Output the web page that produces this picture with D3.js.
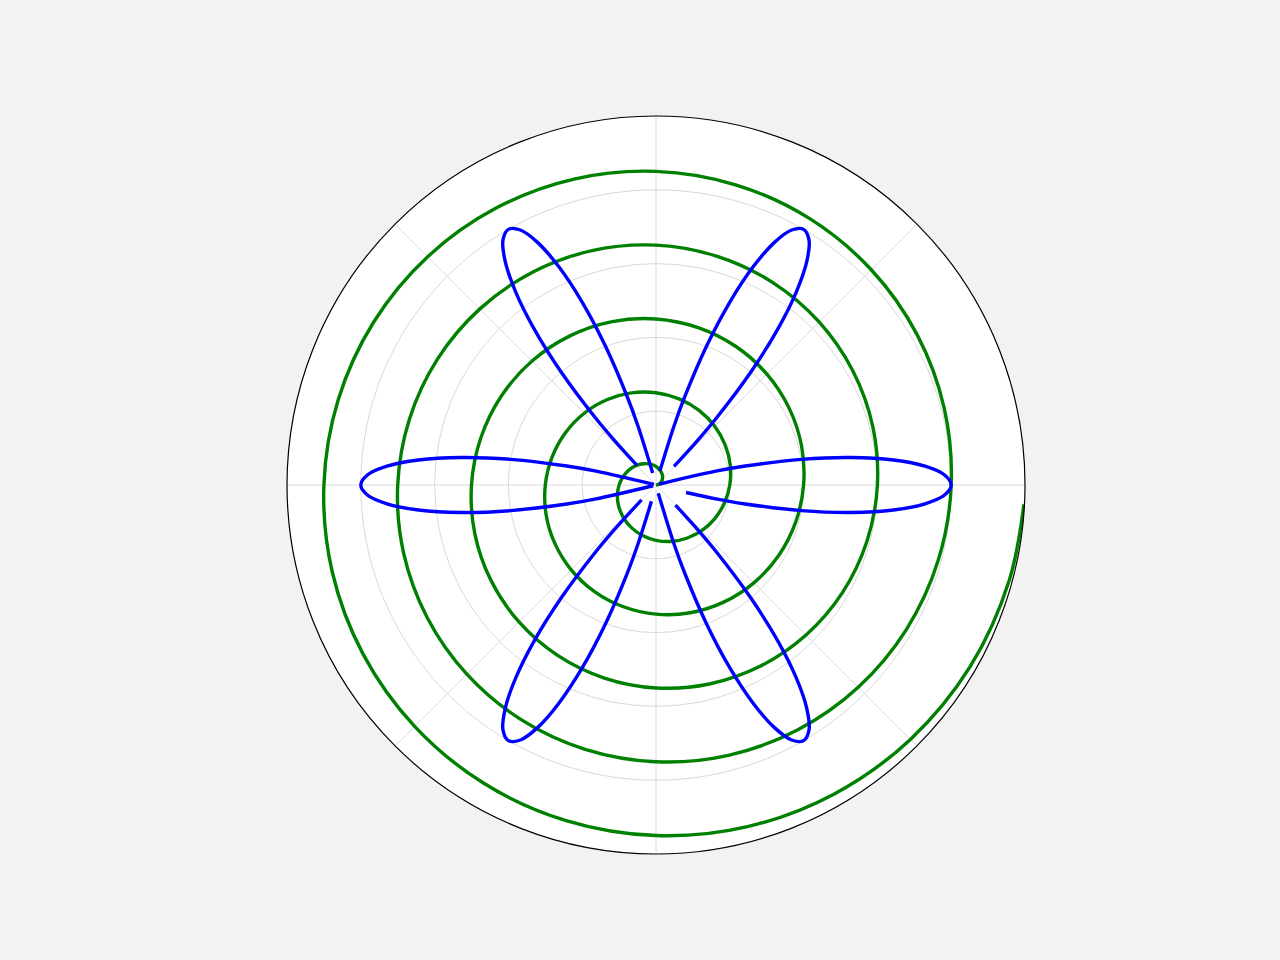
<!DOCTYPE html>
<html>
<head>
<meta charset="utf-8">
<script src="https://cdn.jsdelivr.net/npm/d3@7"></script>
<style>
  html, body { margin: 0; padding: 0; background: #f2f2f2; }
  svg { display: block; }
</style>
</head>
<body>
<svg id="chart" width="1280" height="960"></svg>
<script>
// ---- data ----
// Radial grid rings and angular grid directions (degrees)
const radialTicks = [1, 2, 3, 4];
const angularTicks = [0, 45, 90, 135, 180, 225, 270, 315];
const radialMax = 5;

// Green spiral: angle (degrees, counter-clockwise from east) and radius
const spiralTheta = [
  0,15,30,45,60,75,90,105,120,135,150,165,180,195,210,225,240,255,270,285,300,315,330,345,
  360,375,390,405,420,435,450,465,480,495,510,525,540,555,570,585,600,615,630,645,660,675,690,705,
  720,735,750,765,780,795,810,825,840,855,870,885,900,915,930,945,960,975,990,1005,1020,1035,1050,1065,
  1080,1095,1110,1125,1140,1155,1170,1185,1200,1215,1230,1245,1260,1275,1290,1305,1320,1335,1350,1365,1380,1395,1410,1425,
  1440,1455,1470,1485,1500,1515,1530,1545,1560,1575,1590,1605,1620,1635,1650,1665,1680,1695,1710,1725,1740,1755,1770,1785,
  1797];
const spiralR = [
  0,0.042,0.083,0.125,0.167,0.208,0.25,0.292,0.333,0.375,0.417,0.458,0.5,0.542,0.583,0.625,0.667,0.708,0.75,0.792,0.833,0.875,0.917,0.958,
  1,1.042,1.083,1.125,1.167,1.208,1.25,1.292,1.333,1.375,1.417,1.458,1.5,1.542,1.583,1.625,1.667,1.708,1.75,1.792,1.833,1.875,1.917,1.958,
  2,2.042,2.083,2.125,2.167,2.208,2.25,2.292,2.333,2.375,2.417,2.458,2.5,2.542,2.583,2.625,2.667,2.708,2.75,2.792,2.833,2.875,2.917,2.958,
  3,3.042,3.083,3.125,3.167,3.208,3.25,3.292,3.333,3.375,3.417,3.458,3.5,3.542,3.583,3.625,3.667,3.708,3.75,3.792,3.833,3.875,3.917,3.958,
  4,4.042,4.083,4.125,4.167,4.208,4.25,4.292,4.333,4.375,4.417,4.458,4.5,4.542,4.583,4.625,4.667,4.708,4.75,4.792,4.833,4.875,4.917,4.958,
  4.992];

// Blue rose: petal centre directions, shared petal profile, and per-petal ends
const petalAngles = [0, 60, 120, 180, 240, 300];
const profileOffset = [-13, -12, -10, -8, -6, -4, -2, 0, 2, 4, 6, 8, 10, 12, 13];
const profileR = [0.832, 1.236, 2.0, 2.677, 3.236, 3.654, 3.913, 4.0, 3.913, 3.654, 3.236, 2.677, 2.0, 1.236, 0.832];
const petalStartOffset = [-14.0, -14.16, -14.6, -14.93, -14.33, -14.73];
const petalStartR = [0.42, 0.35, 0.17, 0.03, 0.28, 0.115];
const petalEndOffset = [14.9, 14.52, 14.12, 14.9, 14.45, 14.09];
const petalEndR = [0.04, 0.2, 0.37, 0.04, 0.23, 0.38];

// ---- drawing ----
const svg = d3.select("#chart");
const cx = 656, cy = 485, R = 369;

svg.append("rect").attr("width", 1280).attr("height", 960).attr("fill", "#f2f2f2");

const rScale = d3.scaleLinear().domain([0, radialMax]).range([0, R]);
const toAngle = deg => (90 - deg) * Math.PI / 180;

const g = svg.append("g").attr("transform", `translate(${cx},${cy})`);

svg.append("defs").append("clipPath").attr("id", "axclip")
  .append("circle").attr("cx", 0).attr("cy", 0).attr("r", rScale(radialMax));

g.append("circle").attr("r", rScale(radialMax)).attr("fill", "#ffffff");

// grid
const grid = g.append("g");
grid.selectAll("circle.ring").data(radialTicks).join("circle")
  .attr("class", "ring")
  .attr("r", d => rScale(d))
  .attr("fill", "none").attr("stroke", "#d9d9d9").attr("stroke-width", 1);
grid.selectAll("line.spoke").data(angularTicks).join("line")
  .attr("class", "spoke")
  .attr("x1", 0).attr("y1", 0)
  .attr("x2", d => rScale(radialMax) * Math.cos(d * Math.PI / 180))
  .attr("y2", d => -rScale(radialMax) * Math.sin(d * Math.PI / 180))
  .attr("stroke", "#d9d9d9").attr("stroke-width", 1);

const data = g.append("g").attr("clip-path", "url(#axclip)");

const radial = d3.lineRadial()
  .angle(d => toAngle(d[0]))
  .radius(d => rScale(d[1]))
  .curve(d3.curveCatmullRom);

// spiral
const spiralPts = spiralTheta.map((t, i) => [t, spiralR[i]]);
data.append("path")
  .attr("d", radial(spiralPts))
  .attr("fill", "none").attr("stroke", "#008000").attr("stroke-width", 3.4)
  .attr("stroke-linejoin", "round");

// rose petals
petalAngles.forEach((a, p) => {
  const pts = [[a + petalStartOffset[p], petalStartR[p]]]
    .concat(profileOffset.map((o, i) => [a + o, profileR[i]]))
    .concat([[a + petalEndOffset[p], petalEndR[p]]]);
  data.append("path")
    .attr("d", radial(pts))
    .attr("fill", "none").attr("stroke", "#0000ff").attr("stroke-width", 3.4)
    .attr("stroke-linejoin", "round");
});

// spine
g.append("circle").attr("r", rScale(radialMax))
  .attr("fill", "none").attr("stroke", "#000000").attr("stroke-width", 1.2);
</script>
</body>
</html>
